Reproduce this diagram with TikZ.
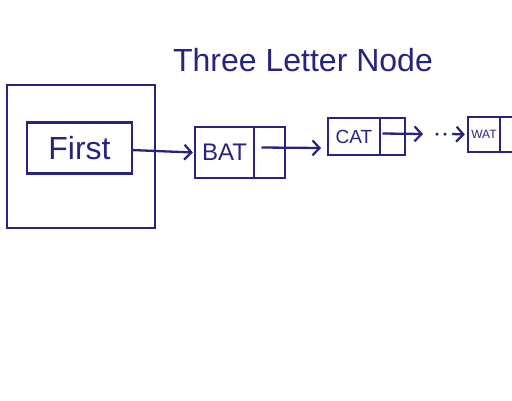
\documentclass[tikz,border=0pt]{standalone}
\usepackage{fontspec}
\setmainfont{Liberation Sans}
\usetikzlibrary{arrows.meta}
\definecolor{ink}{RGB}{40,34,128}
\tikzset{
  pen/.style={draw=ink, line width=2.3pt},
  box/.style={pen, rectangle, inner sep=0pt, text=ink},
  arr/.style={pen, -{Straight Barb[length=7pt,width=15pt,line width=2.2pt]}},
  dotmark/.style={fill=ink, circle, inner sep=0pt, minimum size=3.5pt}
}
\begin{document}
\begin{tikzpicture}[x=1pt,y=-1pt]
\clip (0,0) rectangle (512,400);
\fill[white] (0,0) rectangle (512,400);
% title
\node[text=ink, font=\fontsize{32}{36}\selectfont] (title) at (303,60) {Three Letter Node};
% First
\node[box, minimum width=148pt, minimum height=143pt] (outer) at (81,156.5) {};
\node[box, minimum width=105pt, minimum height=51pt, font=\fontsize{32}{36}\selectfont] (first) at (79.5,148) {First};
% BAT
\node[box, minimum width=59pt, minimum height=51pt, font=\fontsize{24}{28}\selectfont] (batd) at (224.5,152.5) {BAT};
\node[box, minimum width=31pt, minimum height=51pt] (batp) at (269.5,152.5) {};
% CAT
\node[box, minimum width=52pt, minimum height=37pt, font=\fontsize{19}{22}\selectfont] (catd) at (354,136.5) {CAT};
\node[box, minimum width=25pt, minimum height=37pt] (catp) at (392.5,136.5) {};
% WAT
\node[box, minimum width=32pt, minimum height=35pt, font=\fontsize{12}{14}\selectfont] (watd) at (484,134.5) {WAT};
\node[box, minimum width=30pt, minimum height=35pt] (watp) at (515,134.5) {};
% connectors
\draw[arr] ([xshift=-2pt,yshift=-2pt]first.east) -- ([xshift=-1pt]batd.west);
\coordinate (g1) at (321,148);
\draw[arr] ([xshift=-8pt,yshift=5pt]batp.center) -- (g1);
\coordinate (g2) at (423,134);
\draw[arr] ([xshift=-10pt,yshift=3pt]catp.center) -- (g2);
\node[dotmark] (d1) at (437,134) {};
\node[dotmark] (d2) at (445,134) {};
\coordinate (g3) at (452,134);
\draw[arr] (g3) -- ([xshift=-2pt]watd.west);
\end{tikzpicture}
\end{document}
